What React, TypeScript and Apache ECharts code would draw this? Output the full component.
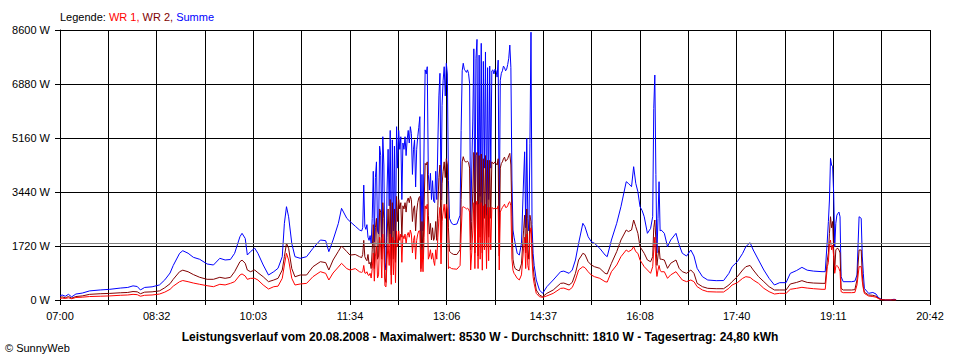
import React, { useEffect, useRef } from "react";
import * as echarts from "echarts";

// Each row: [minutes since 07:00, Summe W, WR 2 W, WR 1 W]
const morning: number[][] = [
  [0, 130, 80, 50], [2, 160, 100, 60], [5, 120, 70, 50], [8, 180, 110, 70], [11, 100, 60, 40],
  [15, 190, 110, 80], [21, 220, 130, 90], [28, 290, 180, 110], [38, 320, 200, 120], [47, 340, 210, 130],
  [57, 380, 230, 150], [64, 400, 240, 160], [69, 450, 270, 180], [73, 430, 260, 170], [76, 320, 200, 120],
  [80, 400, 250, 150], [87, 420, 260, 160], [94, 480, 290, 190], [99, 640, 390, 250], [104, 860, 520, 340],
  [107, 1100, 660, 440], [113, 1487, 902, 583], [116, 1570, 950, 620], [121, 1490, 900, 583], [126, 1360, 810, 540],
  [132, 1296, 723, 500], [139, 1147, 659, 455], [145, 1115, 659, 424], [151, 1328, 723, 500], [156, 1275, 690, 480],
  [161, 1290, 720, 530], [165, 1487, 902, 583], [170, 2016, 1220, 796], [172, 2124, 1270, 830], [175, 1960, 1170, 764],
  [177, 1433, 955, 658], [180, 1540, 902, 690], [184, 1650, 955, 690], [187, 1487, 870, 637], [192, 1115, 740, 478],
  [197, 796, 583, 350], [202, 902, 637, 424], [206, 1010, 690, 440], [210, 1380, 955, 690], [212, 2443, 1380, 1115],
  [214, 2972, 1806, 1487], [216, 2650, 1646, 1274], [219, 1800, 1000, 690], [222, 1380, 740, 478], [227, 1328, 796, 510],
  [233, 1380, 796, 530], [239, 1646, 1061, 743], [246, 1911, 1220, 902], [251, 1890, 1190, 850], [254, 1540, 955, 637],
  [258, 1911, 1274, 860], [263, 2440, 1550, 1050], [266, 2920, 1720, 1168], [271, 2600, 1540, 1000], [274, 2500, 1430, 955],
  [279, 2350, 1450, 1000], [283, 2230, 1380, 900],
];

const midday: number[][] = [
  [285, 2200, 1350, 880], [286, 2300, 1450, 900], [287, 3660, 1900, 1100], [288, 2350, 1380, 860], [289, 2250, 1300, 850],
  [290, 2400, 1250, 900], [291, 2000, 1450, 800], [292, 1900, 1150, 780], [293, 2050, 1200, 850], [294, 1800, 1000, 700],
  [295, 2600, 1600, 1000], [296, 4100, 2400, 1500], [297, 1850, 1000, 600], [298, 3900, 2300, 1400], [299, 4400, 2600, 1700],
  [300, 2200, 1300, 700], [301, 2100, 1400, 800], [302, 4900, 2900, 2000], [303, 4600, 2800, 1700], [304, 2000, 1300, 700],
  [305, 5200, 3100, 2100], [306, 4300, 2600, 1600], [307, 1200, 700, 450], [308, 955, 560, 420], [309, 3500, 2000, 1300],
  [310, 4800, 2900, 1800], [311, 3000, 1800, 1100], [312, 5400, 3200, 2100], [313, 1300, 800, 500], [314, 5100, 3100, 2000],
  [315, 2200, 1300, 800], [316, 4900, 2900, 1900], [317, 1800, 1200, 550], [318, 5520, 3300, 2200], [319, 4200, 2500, 1700],
  [320, 5400, 3200, 2200], [321, 4800, 2900, 1900], [322, 5200, 3100, 2100], [323, 3200, 2000, 1200], [324, 5000, 3000, 2050],
  [325, 4800, 2900, 1950], [326, 5200, 3100, 2100], [327, 4600, 2800, 1800], [328, 5100, 3150, 2050], [329, 5400, 3250, 2150],
  [330, 5000, 3100, 2000], [331, 5520, 3300, 2230], [332, 5300, 3200, 2100], [333, 4000, 2500, 1500], [334, 4800, 2900, 1900],
  [335, 5100, 3000, 2050], [336, 3600, 2200, 1300], [337, 4800, 2800, 1900], [338, 5200, 3100, 2100], [339, 5500, 3250, 2200],
  [340, 5840, 3300, 2200], [341, 1900, 1000, 900], [342, 4000, 2500, 1600], [343, 2200, 1300, 900], [344, 5000, 3000, 2000],
  [345, 7330, 4350, 3000], [346, 7200, 4300, 2900], [347, 7430, 4400, 3050], [348, 4000, 2700, 1300], [349, 3500, 2100, 1400],
  [350, 4035, 2440, 1600], [351, 3200, 1911, 1300], [352, 3800, 2300, 1500], [353, 3150, 1900, 1250], [354, 3100, 2000, 1100],
  [355, 4100, 2500, 1600], [356, 3200, 1900, 1300], [357, 5000, 3000, 2000], [358, 6500, 3900, 2600], [359, 7220, 4300, 2950],
  [360, 3185, 1900, 1150], [361, 6200, 3700, 2500], [362, 7000, 4100, 2800], [363, 7430, 4400, 3050], [364, 6500, 3900, 2600],
  [365, 7540, 4500, 3050], [366, 7200, 4300, 2900], [367, 3800, 2300, 1000], [368, 2600, 1550, 1050], [370, 2443, 1487, 1000],
  [372, 2400, 1450, 990], [375, 2420, 1450, 980], [378, 2700, 1600, 1100], [379, 5400, 3200, 2100], [380, 7300, 4400, 2950],
  [381, 7540, 4565, 2970], [382, 7350, 4450, 2950], [383, 7300, 4400, 2930], [384, 7250, 4400, 2900], [385, 7330, 4420, 2920],
  [386, 7220, 4380, 2900], [387, 6900, 4200, 2800], [388, 2230, 1600, 956], [389, 4140, 2500, 1500], [390, 5700, 3400, 2200],
  [391, 8000, 4700, 3100], [392, 2300, 1500, 1000], [393, 7700, 4600, 3000], [394, 8300, 4700, 3150], [395, 2250, 1400, 1000],
  [396, 7800, 4600, 3050], [397, 3300, 2000, 1300], [398, 8175, 4650, 3100], [399, 2300, 1500, 950], [400, 7600, 4500, 3000],
  [401, 4200, 2600, 1600], [402, 7900, 4600, 3050], [403, 2700, 1700, 1000], [404, 7400, 4450, 2950], [405, 3200, 2000, 1250],
  [406, 7450, 4450, 2950], [407, 4200, 2600, 1600], [408, 7300, 4400, 2950], [409, 7330, 4350, 2920], [410, 7200, 4350, 2900],
  [411, 7350, 4400, 2930], [412, 7300, 4350, 2920], [413, 7100, 4300, 2900], [414, 7640, 4500, 3000], [415, 2300, 1400, 956],
  [416, 7000, 4200, 2800], [417, 7220, 4350, 2880], [418, 7300, 4400, 2950], [419, 7450, 4500, 3000], [420, 7400, 4550, 3050],
  [421, 7300, 4420, 2950], [422, 7350, 4450, 2950], [423, 7500, 4500, 3000], [424, 7700, 4600, 3100], [425, 8120, 4670, 3130],
  [426, 7400, 4300, 3000], [427, 3820, 2650, 1300], [428, 2230, 1300, 950], [429, 2000, 1100, 850], [430, 1815, 1000, 800],
  [432, 1487, 955, 690], [434, 1433, 930, 640], [436, 1806, 1150, 800], [438, 3822, 2200, 1650], [439, 4720, 2700, 2000],
  [440, 2300, 1500, 1000], [441, 5150, 2900, 2100], [442, 2600, 1600, 1100], [443, 2200, 1300, 950], [444, 4990, 2700, 2100],
  [445, 8530, 2500, 2300], [446, 2400, 1700, 1300], [447, 1487, 1060, 740], [448, 1100, 750, 520],
];

const afternoon: number[][] = [
  [450, 637, 319, 212], [453, 318, 160, 106], [456, 212, 106, 85], [460, 424, 212, 130], [466, 637, 319, 212],
  [473, 902, 530, 370], [476, 920, 540, 380], [481, 850, 478, 319], [484, 956, 560, 400], [487, 1274, 850, 637],
  [490, 1806, 1274, 956], [494, 2443, 1487, 1061], [496, 2335, 1450, 1030], [499, 2016, 1220, 900], [502, 1857, 1115, 796],
  [505, 1806, 1061, 743], [510, 1646, 1008, 690], [515, 1433, 850, 584], [517, 1380, 830, 570], [521, 1911, 1168, 902],
  [526, 2443, 1540, 1115], [530, 2972, 1911, 1380], [535, 3768, 2230, 1593], [537, 3715, 2180, 1540], [540, 3609, 2230, 1593],
  [542, 4246, 2548, 1698], [544, 3715, 2335, 1540], [546, 3450, 2124, 1487], [548, 2972, 1698, 1274], [550, 2850, 1593, 1170],
  [552, 2653, 1487, 1061], [555, 2124, 1274, 956], [558, 2280, 1220, 850], [560, 2653, 1380, 1061], [561, 6100, 2300, 1600],
  [562, 7166, 2548, 2000], [563, 4000, 1900, 1100], [564, 1500, 1100, 750], [565, 2600, 1400, 950], [566, 3768, 1700, 1100],
  [567, 2200, 1300, 950], [568, 2230, 1300, 900], [571, 2124, 1274, 900], [574, 1698, 1008, 690], [577, 1911, 1170, 800],
  [582, 2124, 1274, 902], [585, 1752, 1008, 764], [588, 1487, 902, 637], [592, 1400, 850, 584], [596, 1593, 956, 637],
  [599, 1400, 850, 584], [602, 1008, 531, 424], [607, 743, 424, 319], [612, 637, 372, 265], [620, 616, 360, 255],
  [627, 620, 360, 255], [632, 849, 478, 372], [635, 1061, 584, 478], [640, 1221, 743, 552], [645, 1487, 956, 690],
  [648, 1698, 1061, 743], [652, 1826, 1100, 720], [655, 1593, 956, 637], [660, 1274, 743, 531], [665, 956, 584, 372],
  [670, 690, 424, 265], [675, 478, 319, 191], [680, 552, 319, 212], [686, 552, 319, 212],
];

const evening: number[][] = [
  [690, 849, 510, 340], [696, 940, 560, 372], [701, 1040, 616, 404], [706, 950, 560, 380], [712, 920, 540, 360],
  [720, 902, 531, 340], [723, 902, 531, 340], [725, 1911, 1274, 1061], [726, 2500, 1500, 1200], [727, 3185, 2124, 1800],
  [728, 4512, 2653, 1911], [729, 4300, 2300, 1600], [730, 4246, 2500, 1750], [731, 3400, 1593, 1380], [732, 1698, 956, 850],
  [733, 2443, 1593, 1061], [734, 2700, 1640, 1100], [735, 2761, 1646, 1061], [736, 2800, 1593, 1000], [737, 2650, 1500, 900],
  [738, 743, 372, 265], [740, 583, 319, 233], [748, 583, 319, 233], [751, 600, 330, 240], [753, 796, 637, 478],
  [755, 2653, 1593, 1061], [757, 2600, 1593, 1061], [758, 1400, 800, 600], [759, 850, 420, 370], [760, 370, 250, 210],
  [764, 212, 159, 127], [768, 240, 150, 110], [771, 190, 120, 90], [773, 85, 60, 50], [776, 20, 10, 5],
  [780, 0, 0, 0], [785, 0, 0, 0], [787, 20, 0, 0], [789, 20, 0, 0], [790, 0, 0, 0],
];

const timeLabels = ["07:00", "08:32", "10:03", "11:34", "13:06", "14:37", "16:08", "17:40", "19:11", "20:42"];
const yMax = 8600;
const yStep = 1720;
const average = 1810;
const legendTitle = "Legende:";
const seriesNames = ["WR 1", "WR 2", "Summe"];
const footer = "Leistungsverlauf vom 20.08.2008 - Maximalwert: 8530 W - Durchschnitt: 1810 W - Tagesertrag: 24,80 kWh";
const copyright = "© SunnyWeb";

const SPAN_SECONDS = 822 * 60;
const TICK_SECONDS = SPAN_SECONDS / 18;

export default function App() {
  const ref = useRef<HTMLDivElement>(null);
  useEffect(() => {
    if (!ref.current) return;
    const chart = echarts.init(ref.current, null, { renderer: "svg" });
    const rows = [...morning, ...midday, ...afternoon, ...evening];
    const col = (k: number) => rows.map((r) => [r[0] * 60, r[k]]);
    const font = "'Liberation Sans', Arial, sans-serif";
    const lineBase = {
      type: "line",
      showSymbol: false,
      symbol: "none",
      clip: true,
      silent: true,
    };
    chart.setOption({
      animation: false,
      backgroundColor: "#ffffff",
      grid: { left: 60, right: 30, top: 30, bottom: 60, containLabel: false },
      xAxis: {
        type: "value",
        min: 0,
        max: SPAN_SECONDS,
        interval: TICK_SECONDS,
        axisLine: { show: true, lineStyle: { color: "#000", width: 1 } },
        axisTick: { show: true, length: 5, lineStyle: { color: "#000", width: 1 } },
        splitLine: { show: true, lineStyle: { color: "#000", width: 1 } },
        axisLabel: {
          margin: 10,
          color: "#000",
          fontSize: 11,
          fontFamily: font,
          showMinLabel: true,
          showMaxLabel: true,
          formatter: (v: number) => {
            const i = Math.round(v / TICK_SECONDS);
            return i % 2 === 0 ? timeLabels[i / 2] ?? "" : "";
          },
        },
      },
      yAxis: {
        type: "value",
        min: 0,
        max: yMax,
        interval: yStep,
        axisLine: { show: true, lineStyle: { color: "#000", width: 1 } },
        axisTick: { show: true, length: 5, lineStyle: { color: "#000", width: 1 } },
        splitLine: { show: true, lineStyle: { color: "#000", width: 1 } },
        axisLabel: {
          margin: 10,
          color: "#000",
          fontSize: 11,
          fontFamily: font,
          formatter: (v: number) => `${v} W`,
        },
      },
      series: [
        {
          ...lineBase,
          name: seriesNames[2],
          data: col(1),
          lineStyle: { color: "#0000ff", width: 1 },
          itemStyle: { color: "#0000ff" },
          markLine: {
            silent: true,
            symbol: "none",
            label: { show: false },
            lineStyle: { color: "#808080", type: "solid", width: 1 },
            data: [{ yAxis: average }],
          },
        },
        {
          ...lineBase,
          name: seriesNames[1],
          data: col(2),
          lineStyle: { color: "#800000", width: 1 },
          itemStyle: { color: "#800000" },
        },
        {
          ...lineBase,
          name: seriesNames[0],
          data: col(3),
          lineStyle: { color: "#ff0000", width: 1 },
          itemStyle: { color: "#ff0000" },
        },
      ],
      graphic: [
        {
          type: "text",
          left: 60,
          top: 11,
          style: {
            text: `{k|${legendTitle}} {a|${seriesNames[0]},} {b|${seriesNames[1]},} {c|${seriesNames[2]}}`,
            font: `11px ${font}`,
            fill: "#000",
            rich: {
              k: { fill: "#000", fontSize: 11, fontFamily: font },
              a: { fill: "#ff0000", fontSize: 11, fontFamily: font },
              b: { fill: "#800000", fontSize: 11, fontFamily: font },
              c: { fill: "#0000ff", fontSize: 11, fontFamily: font },
            },
          },
        },
        {
          type: "text",
          x: 480,
          y: 337,
          style: {
            text: footer,
            fill: "#000",
            font: `bold 12px ${font}`,
            textAlign: "center",
            textVerticalAlign: "middle",
          },
        },
        {
          type: "text",
          x: 5,
          y: 348,
          style: {
            text: copyright,
            fill: "#000",
            font: `11px ${font}`,
            textAlign: "left",
            textVerticalAlign: "middle",
          },
        },
      ],
    });
    return () => chart.dispose();
  }, []);
  return (
    <div
      ref={ref}
      style={{ position: "fixed", left: 0, top: 0, width: 960, height: 360, background: "#fff" }}
    />
  );
}
